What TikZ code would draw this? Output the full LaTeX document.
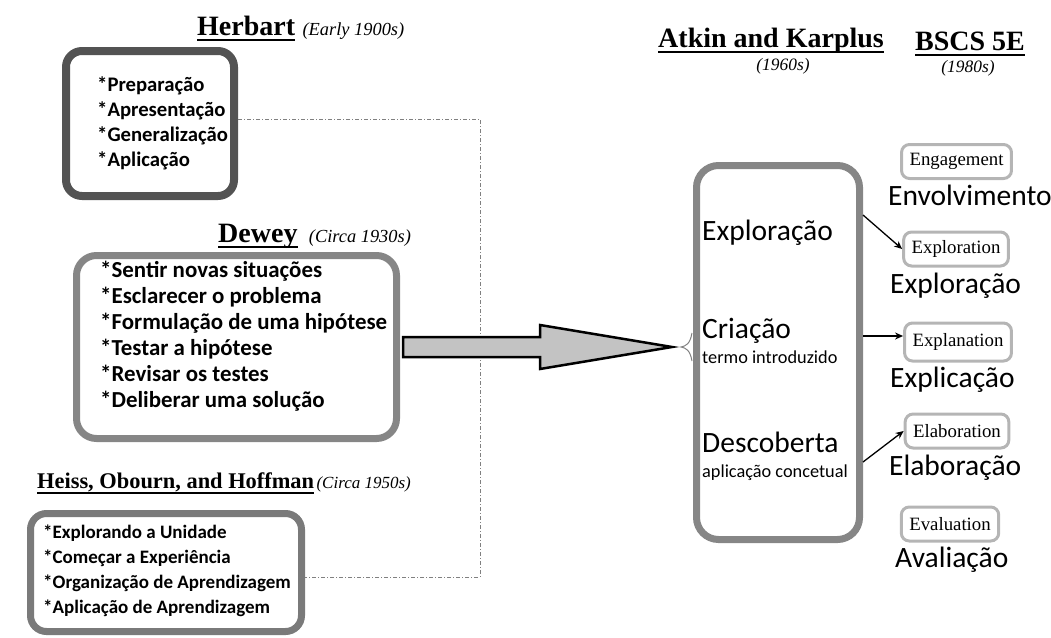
\documentclass[tikz,border=0pt]{standalone}
\usepackage{fontspec}
\setmainfont{Liberation Serif}
\newfontfamily\carlito{Carlito}
\usepackage{xcolor}
\usetikzlibrary{arrows.meta, positioning, calc}

\definecolor{darkframe}{HTML}{535353}
\definecolor{midframe}{HTML}{868686}
\definecolor{heissframe}{HTML}{7A7A7A}
\definecolor{lightframe}{HTML}{B5B5B5}
\definecolor{arrowfill}{HTML}{C3C3C3}

\begin{document}
\begin{tikzpicture}[x=1pt, y=-1pt,
    title/.style={inner sep=0pt, anchor=base west, font=\bfseries\fontsize{28}{30}\selectfont},
    date/.style={inner sep=0pt, font=\itshape\fontsize{18.4}{20}\selectfont},
    frame/.style={draw, rounded corners=16pt, line width=7pt, inner sep=0pt},
    stage/.style={inner sep=0pt, anchor=base west, font=\carlito\bfseries\fontsize{#1}{#1}\selectfont},
    phase/.style={inner sep=0pt, anchor=base west, font=\carlito\fontsize{29.5}{30}\selectfont},
    note/.style={inner sep=0pt, anchor=base west, font=\carlito\fontsize{18.3}{20}\selectfont},
    ebox/.style={draw=lightframe, line width=3pt, rounded corners=8pt, minimum height=34pt,
        inner xsep=8pt, font=\fontsize{18.8}{20}\selectfont},
    pword/.style={inner sep=0pt, anchor=base west, font=\carlito\fontsize{29.5}{30}\selectfont},
    uline/.style={line width=2pt},
    link/.style={-{Stealth[length=8pt,width=7pt]}, line width=1.3pt},
    guide/.style={draw=gray, line width=0.9pt, dash pattern=on 4pt off 2pt on 1pt off 2pt}]
    \useasboundingbox (0,0) rectangle (1051,637);

    % Herbart
    \node[title] (herbart) at (197,35) {Herbart};
    \node[date, base right=7pt of herbart] (herbartdate) {(Early 1900s)};
    \node[frame, draw=darkframe, line width=8pt, minimum width=168pt, minimum height=145pt] (herbartbox) at (150,123.5) {};
    \foreach \s [count=\i] in {Preparação, Apresentação, Generalização, Aplicação}
        \node[stage=20.7] (herbart\i) at (97, 66+25*\i) {*\s};

    % Dewey
    \node[title] (dewey) at (218,242) {Dewey};
    \node[date, base right=11pt of dewey] (deweydate) {(Circa 1930s)};
    \node[frame, draw=midframe, rounded corners=20pt, minimum width=320pt, minimum height=183pt] (deweybox) at (236.5,347) {};
    \foreach \s [count=\i] in {Sentir novas situações, Esclarecer o problema, Formulação de uma hipótese,
        Testar a hipótese, Revisar os testes, Deliberar uma solução}
        \node[stage=22.9] (dewey\i) at (100, 251+26*\i) {*\s};

    % Heiss, Obourn and Hoffman
    \node[title, font=\bfseries\fontsize{22.4}{24}\selectfont] (heiss) at (37,488) {Heiss, Obourn, and Hoffman\ };
    \node[date, font=\itshape\fontsize{17}{20}\selectfont, base right=2pt of heiss] (heissdate) {(Circa 1950s)};
    \node[frame, draw=heissframe, minimum width=271pt, minimum height=118pt] (heissbox) at (166,572.5) {};
    \foreach \s [count=\i] in {Explorando a Unidade, Começar a Experiência, Organização de Aprendizagem,
        Aplicação de Aprendizagem}
        \node[stage=19] (heiss\i) at (43, 513+25*\i) {*\s};

    \coordinate (bend) at (480,119);
    \draw[guide] ([yshift=4.5pt]herbartbox.east) -- (bend) |- ([yshift=-4.5pt]heissbox.east);

    % Atkin and Karplus / BSCS
    \node[title] (atkin) at (658,47) {Atkin and Karplus};
    \node[date, anchor=base, font=\itshape\fontsize{17.4}{20}\selectfont] (atkindate) at (783,70) {(1960s)};
    \node[title] (bscs) at (915,50) {BSCS 5E};
    \node[date, anchor=base, font=\itshape\fontsize{17.4}{20}\selectfont] (bscsdate) at (968,72) {(1980s)};

    \foreach \t in {herbart, dewey, heiss, atkin, bscs}
        \draw[uline] ([yshift=-4.5pt]\t.base west) -- ([yshift=-4.5pt]\t.base east);

    \node[frame, draw=midframe, rounded corners=22pt, minimum width=163pt, minimum height=374pt] (atkinbox) at (778,352.5) {};
    \node[phase] (exploracao) at (702,240) {Exploração};
    \node[phase] (criacao) at (702,338) {Criação};
    \node[note] (termo) at (702,363) {termo introduzido};
    \node[phase] (descoberta) at (702,452) {Descoberta};
    \node[note] (aplicacao) at (702,477) {aplicação concetual};

    % big arrow
    \draw[line width=2.5pt, fill=arrowfill] (403,337) -- (540,337) -- (540,325) -- (672,347)
        -- (540,369) -- (540,357) -- (403,357) -- cycle;
    \draw[gray, line width=1pt] (692,333) .. controls (690,344) and (686,346) .. (681,347)
        .. controls (686,348) and (690,350) .. (692,361);

    % 5E
    \node[ebox] (engagement) at (956.5,161.5) {Engagement};
    \node[ebox] (exploration) at (956,249) {Exploration};
    \node[ebox, minimum height=38pt] (explanation) at (958,342) {Explanation};
    \node[ebox] (elaboration) at (957,431) {Elaboration};
    \node[ebox] (evaluation) at (950,524) {Evaluation};

    \node[pword] (envolvimento) at (888,205) {Envolvimento};
    \node[pword] (exploracao2) at (890,293) {Exploração};
    \node[pword] (explicacao) at (890,387) {Explicação};
    \node[pword] (elaboracao) at (889,475) {Elaboração};
    \node[pword] (avaliacao) at (895,567) {Avaliação};

    \draw[link] ([yshift=137.5pt]atkinbox.east) -- (exploration.west);
    \draw[link] ([yshift=16.5pt]atkinbox.east) -- ([yshift=16.5pt]atkinbox.east -| explanation.west);
    \draw[link] ([yshift=-109.5pt]atkinbox.east) -- (elaboration.west);
\end{tikzpicture}
\end{document}
